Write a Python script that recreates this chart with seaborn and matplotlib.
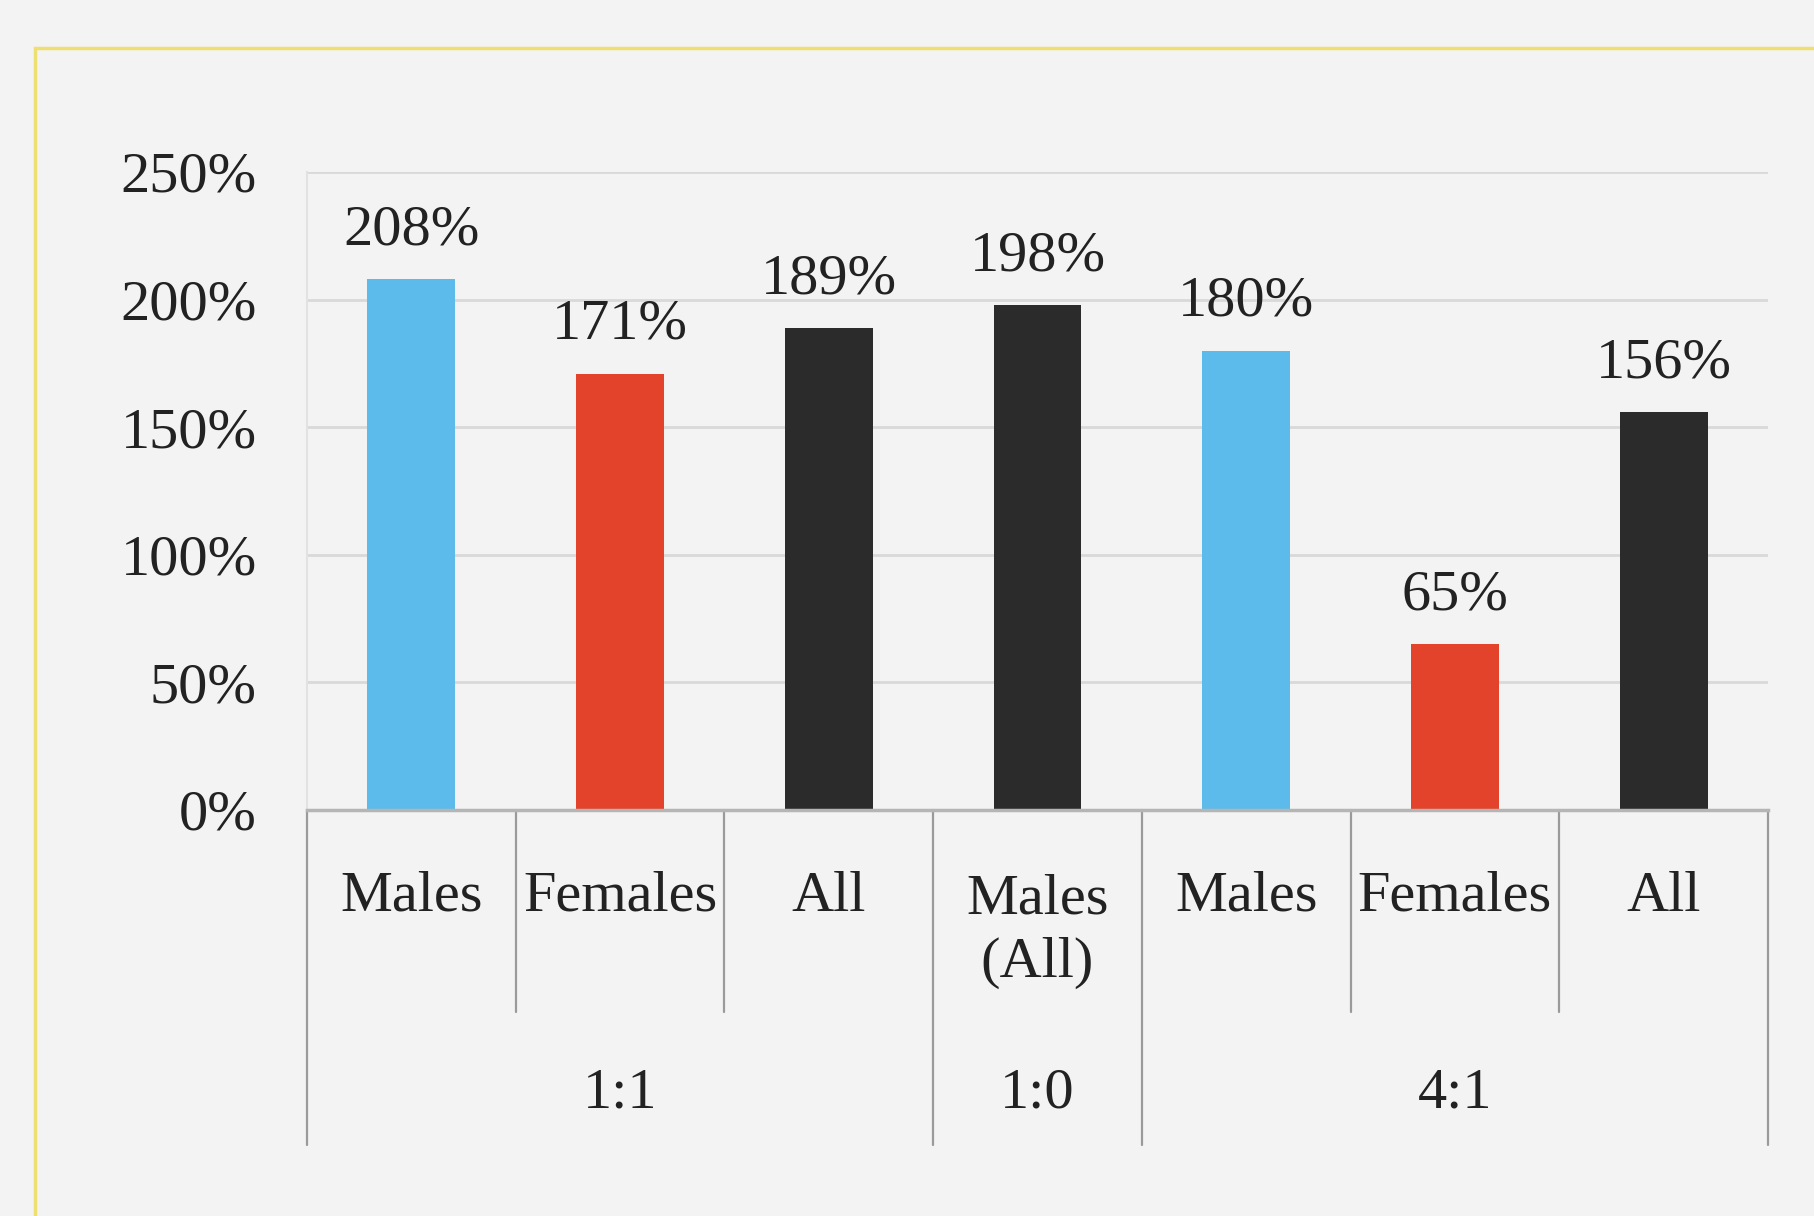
import pandas as pd
import matplotlib.pyplot as plt
import seaborn as sns
from matplotlib.patches import Rectangle
from matplotlib.ticker import FuncFormatter

# data
ratios = ["1:1", "1:1", "1:1", "1:0", "4:1", "4:1", "4:1"]
subgroups = ["Males", "Females", "All", "Males\n(All)", "Males", "Females", "All"]
kinds = ["Males", "Females", "All", "All", "Males", "Females", "All"]
values = [2.08, 1.71, 1.89, 1.98, 1.80, 0.65, 1.56]
group_names = ["1:1", "1:0", "4:1"]
group_sizes = [3, 1, 3]

colors = {"Males": "#5cbbea", "Females": "#e2432a", "All": "#2b2b2b"}
bg = "#f3f3f3"

df = pd.DataFrame({"ratio": ratios, "sub": subgroups, "kind": kinds, "value": values})
df["key"] = [f"{r} {s}" for r, s in zip(ratios, subgroups)]

sns.set_style("white")
plt.rcParams["font.family"] = ["Liberation Serif", "DejaVu Serif"]

fig = plt.figure(figsize=(18.14, 12.16), dpi=100, facecolor=bg)
ax = fig.add_axes([0.1692, 0.3339, 0.8055, 0.5247], facecolor=bg)

sns.barplot(data=df, x="key", y="value", hue="kind", order=list(df["key"]),
            palette=colors, dodge=False, width=0.42, legend=False, ax=ax,
            saturation=1, edgecolor="none")

ax.set_xlim(-0.5, len(values) - 0.5)
ax.set_ylim(0, 2.5)
ax.set_yticks([0, 0.5, 1.0, 1.5, 2.0, 2.5])
ax.yaxis.set_major_formatter(FuncFormatter(lambda v, p: f"{v*100:.0f}%"))
ax.tick_params(axis="y", labelsize=42, length=12, width=1.5, color="#d0d0d0",
               pad=24, labelcolor="#222222")
ax.set_xticks([])
ax.set_xlabel("")
ax.set_ylabel("")
ax.yaxis.grid(True, color="#d9d9d9", linewidth=2)
ax.set_axisbelow(True)
for s in ["top", "right"]:
    ax.spines[s].set_visible(False)
ax.spines["left"].set_color("#e2e2e2")
ax.spines["left"].set_linewidth(1.5)
ax.spines["bottom"].set_color("#b5b5b5")
ax.spines["bottom"].set_linewidth(2.5)

# value labels (patches come grouped by hue, so sort them by position)
bars = sorted([p for p in ax.patches if p.get_height() > 0], key=lambda p: p.get_x())
for bar in bars:
    v = bar.get_height()
    ax.annotate(f"{v*100:.0f}%", (bar.get_x() + bar.get_width() / 2, v),
                xytext=(0, 35), textcoords="offset points",
                ha="center", va="center", fontsize=42, color="#222222")

# multi-level category axis
xt = ax.get_xaxis_transform()
for i, s in enumerate(subgroups):
    ax.text(i, -0.136 if "\n" not in s else -0.19, s, transform=xt,
            ha="center", va="center", fontsize=42, color="#222222",
            linespacing=1.3)

line_kw = dict(transform=xt, clip_on=False, color="#9a9a9a", linewidth=1.6)
edges = [0]
for n in group_sizes:
    edges.append(edges[-1] + n)
for b in range(len(values) + 1):
    x = b - 0.5
    y_end = -0.525 if b in edges else -0.3166
    ax.plot([x, x], [0, y_end], **line_kw)

for name, start, n in zip(group_names, edges[:-1], group_sizes):
    ax.text(start + (n - 1) / 2, -0.4436, name, transform=xt,
            ha="center", va="center", fontsize=42, color="#222222")

# yellow outer frame
fig.patches.append(Rectangle((0.0195, -0.02), 1.0, 0.9805, transform=fig.transFigure,
                             fill=False, edgecolor="#eee070", linewidth=2.5))

fig.savefig("out.png", dpi=100, facecolor=bg)
